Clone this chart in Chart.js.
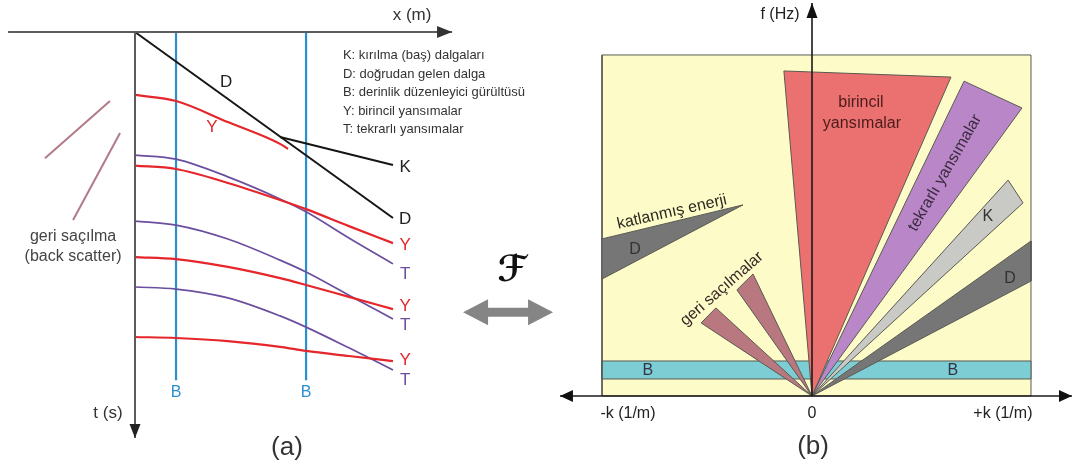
<!DOCTYPE html>
<html>
<head>
<meta charset="utf-8">
<script src="https://cdn.jsdelivr.net/npm/chart.js@4.4.1/dist/chart.umd.min.js"></script>
<style>
  html, body { margin: 0; padding: 0; background: #ffffff; }
  #wrap { position: relative; width: 1081px; height: 472px; overflow: hidden; }
  canvas { position: absolute; top: 0; }
  #chartA { left: 0; }
  #chartB { left: 560px; }
</style>
</head>
<body>
<div id="wrap">
  <canvas id="chartA" width="560" height="472"></canvas>
  <canvas id="chartB" width="521" height="472"></canvas>
</div>
<script>
// ---------- (a) shot gather: offset x (m) against time t (s), diagram units ----------
const offsets   = [0, 1.59, 3.6, 5.62, 6.63, 8.29, 10];
const primary1X = [0, 1.59, 3.6, 5.62, 5.93];
const primary1T = [1.85, 2.03, 2.65, 3.29, 3.44];
const primary2T = [3.93, 4.03, 4.44, 4.94, 5.21, 5.71, 6.21];
const primary3T = [6.62, 6.68, 6.91, 7.24, 7.44, 7.79, 8.15];
const primary4T = [8.97, 9.00, 9.09, 9.26, 9.38, 9.53, 9.68];
const multiple1T = [3.62, 3.74, 4.26, 4.91, 5.29, 6.06, 6.82];
const multiple2T = [5.56, 5.68, 6.09, 6.71, 7.06, 7.74, 8.44];
const multiple3T = [7.50, 7.56, 7.82, 8.35, 8.68, 9.29, 9.94];
const directX = [0, 10];
const directT = [0, 5.47];
const headWaveX = [5.62, 10];
const headWaveT = [3.09, 3.91];
const groundRollX = [1.59, 6.63];
const groundRollT = [0, 10.24];
const backScatter1X = [-3.49, -0.97];
const backScatter1T = [3.71, 2.03];
const backScatter2X = [-2.40, -0.58];
const backScatter2T = [5.53, 2.97];
const axisAX = [-4.92, 12.29];
const axisAT = [0, 11.94];

// ---------- (b) f-k spectrum: wavenumber k (1/m) against frequency f (Hz) ----------
const panelK = [-9.79, 10.21];
const panelF = [0, 10.03];
const groundRollF = [0.5, 1.03];
const primaryWedgeK = [0, -1.31, 6.48];
const primaryWedgeF = [0, 9.56, 9.38];
const multipleWedgeK = [0, 7.09, 9.79];
const multipleWedgeF = [0, 9.26, 8.47];
const headWedgeK = [0, 9.14, 9.84];
const headWedgeF = [0, 6.35, 5.68];
const directWedgeK = [0, 10.21, 10.21];
const directWedgeF = [0, 4.56, 3.38];
const aliasedK = [-9.79, -3.22, -9.79];
const aliasedF = [4.62, 5.62, 3.44];
const scatterWedge1K = [0, -5.17, -4.48];
const scatterWedge1F = [0, 2.15, 2.59];
const scatterWedge2K = [0, -3.50, -2.75];
const scatterWedge2F = [0, 3.12, 3.59];
const axisBK = [-11.75, 12.12];
const axisBF = [0, 11.56];

// ---------- helpers ----------
const zip = (xs, ys) => xs.map((v, i) => ({ x: v, y: ys[i] }));
const closed = (xs, ys) => { const p = zip(xs, ys); p.push({ ...p[0] }); return p; };

const FONT = '"Liberation Sans", Arial, sans-serif';

function labelPlugin(items) {
  return {
    id: 'textLabels',
    afterDatasetsDraw(chart) {
      const { ctx } = chart;
      const sx = chart.scales.x, sy = chart.scales.y;
      for (const l of items) {
        ctx.save();
        ctx.translate(sx.getPixelForValue(l.x), sy.getPixelForValue(l.y));
        if (l.rot) ctx.rotate(l.rot * Math.PI / 180);
        ctx.font = l.font;
        ctx.fillStyle = l.color;
        ctx.textAlign = l.align || 'center';
        ctx.textBaseline = 'middle';
        ctx.fillText(l.text, 0, 0);
        ctx.restore();
      }
    }
  };
}

function arrowPlugin(heads, extra) {
  return {
    id: 'arrowHeads',
    afterDatasetsDraw(chart) {
      const { ctx } = chart;
      const sx = chart.scales.x, sy = chart.scales.y;
      for (const h of heads) {
        const px = sx.getPixelForValue(h.x), py = sy.getPixelForValue(h.y);
        ctx.save();
        ctx.translate(px, py);
        ctx.rotate(h.angle * Math.PI / 180);
        ctx.beginPath();
        ctx.moveTo(0, 0);
        ctx.lineTo(-h.len, -h.half);
        ctx.lineTo(-h.len, h.half);
        ctx.closePath();
        ctx.fillStyle = h.color;
        ctx.fill();
        ctx.restore();
      }
      if (extra) extra(chart, sx, sy);
    }
  };
}

function baseOptions(xmin, xmax, ymin, ymax, reverseY) {
  return {
    responsive: false,
    animation: false,
    devicePixelRatio: 1,
    layout: { padding: 0 },
    events: [],
    scales: {
      x: { type: 'linear', display: false, min: xmin, max: xmax },
      y: { type: 'linear', display: false, min: ymin, max: ymax, reverse: reverseY }
    },
    plugins: { legend: { display: false }, tooltip: { enabled: false } },
    elements: { point: { radius: 0 } }
  };
}

function lineSet(points, color, width, order, curved) {
  return {
    data: points, showLine: true, borderColor: color, borderWidth: width,
    pointRadius: 0, fill: false, order: order,
    tension: curved ? 0.4 : 0, cubicInterpolationMode: curved ? 'monotone' : 'default',
    borderCapStyle: 'butt'
  };
}

function polySet(points, fillColor, order) {
  return {
    data: points, showLine: true, borderColor: '#5a5a52', borderWidth: 1,
    backgroundColor: fillColor, fill: 'shape', pointRadius: 0, order: order, tension: 0
  };
}

// ---------- chart (a) ----------
const RED = '#e5262b', PURPLE = '#6b4f9e', BLUE = '#2b8fcf', BLACK = '#151515', AXIS = '#5c5c5c';

const labelsA = [
  { text: 'x (m)', x: 10.74, y: -0.50, font: '17px ' + FONT, color: '#333' },
  { text: 't (s)', x: -1.05, y: 11.21, font: '17px ' + FONT, color: '#333' },
  { text: 'D', x: 3.53, y: 1.47, font: '17px ' + FONT, color: '#222' },
  { text: 'Y', x: 2.98, y: 2.79, font: '17px ' + FONT, color: RED },
  { text: 'K', x: 10.47, y: 3.97, font: '17px ' + FONT, color: '#222' },
  { text: 'D', x: 10.47, y: 5.50, font: '17px ' + FONT, color: '#222' },
  { text: 'Y', x: 10.47, y: 6.26, font: '17px ' + FONT, color: RED },
  { text: 'T', x: 10.47, y: 7.12, font: '17px ' + FONT, color: PURPLE },
  { text: 'Y', x: 10.47, y: 8.06, font: '17px ' + FONT, color: RED },
  { text: 'T', x: 10.47, y: 8.62, font: '17px ' + FONT, color: PURPLE },
  { text: 'Y', x: 10.47, y: 9.65, font: '17px ' + FONT, color: RED },
  { text: 'T', x: 10.47, y: 10.24, font: '17px ' + FONT, color: PURPLE },
  { text: 'B', x: 1.59, y: 10.62, font: '16px ' + FONT, color: BLUE },
  { text: 'B', x: 6.63, y: 10.62, font: '16px ' + FONT, color: BLUE },
  { text: 'K: kırılma (baş) dalgaları', x: 8.06, y: 0.68, font: '13px ' + FONT, color: '#333', align: 'left' },
  { text: 'D: doğrudan gelen dalga', x: 8.06, y: 1.24, font: '13px ' + FONT, color: '#333', align: 'left' },
  { text: 'B: derinlik düzenleyici gürültüsü', x: 8.06, y: 1.79, font: '13px ' + FONT, color: '#333', align: 'left' },
  { text: 'Y: birincil yansımalar', x: 8.06, y: 2.33, font: '13px ' + FONT, color: '#333', align: 'left' },
  { text: 'T: tekrarlı yansımalar', x: 8.06, y: 2.88, font: '13px ' + FONT, color: '#333', align: 'left' },
  { text: 'geri saçılma', x: -2.40, y: 6.03, font: '16px ' + FONT, color: '#444' },
  { text: '(back scatter)', x: -2.40, y: 6.62, font: '16px ' + FONT, color: '#444' },
  { text: '(a)', x: 5.89, y: 12.24, font: '26px ' + FONT, color: '#333' },
  { text: 'ℱ', x: 14.61, y: 7.06, font: 'bold italic 36px "DejaVu Serif", "DejaVu Sans", serif', color: '#111' }
];

const headsA = [
  { x: axisAX[1], y: 0, angle: 0, len: 15, half: 6, color: '#333' },
  { x: 0, y: axisAT[1], angle: 90, len: 14, half: 5.5, color: '#222' }
];

// double arrow between the two panels (transform pair)
function drawTransformArrow(chart, sx, sy) {
  const ctx = chart.ctx;
  const cx = sx.getPixelForValue(14.46), cy = sy.getPixelForValue(8.24);
  const halfLen = 45, headLen = 25, headHalf = 13, shaftHalf = 4.5;
  ctx.save();
  ctx.beginPath();
  ctx.moveTo(cx - halfLen, cy);
  ctx.lineTo(cx - halfLen + headLen, cy - headHalf);
  ctx.lineTo(cx - halfLen + headLen, cy - shaftHalf);
  ctx.lineTo(cx + halfLen - headLen, cy - shaftHalf);
  ctx.lineTo(cx + halfLen - headLen, cy - headHalf);
  ctx.lineTo(cx + halfLen, cy);
  ctx.lineTo(cx + halfLen - headLen, cy + headHalf);
  ctx.lineTo(cx + halfLen - headLen, cy + shaftHalf);
  ctx.lineTo(cx - halfLen + headLen, cy + shaftHalf);
  ctx.lineTo(cx - halfLen + headLen, cy + headHalf);
  ctx.closePath();
  ctx.fillStyle = '#858585';
  ctx.fill();
  ctx.restore();
}

const optsA = baseOptions(-5.2326, 16.4729, -0.94118, 12.94118, true);
new Chart(document.getElementById('chartA'), {
  type: 'scatter',
  data: {
    datasets: [
      lineSet(zip(axisAX, [0, 0]), AXIS, 2, 0, false),
      lineSet(zip([0, 0], axisAT), AXIS, 2, 0, false),
      lineSet(zip(directX, directT), BLACK, 2, 2, false),
      lineSet(zip(headWaveX, headWaveT), BLACK, 2, 2, false),
      lineSet(zip(primary1X, primary1T), RED, 2.2, 3, true),
      lineSet(zip(offsets, primary2T), RED, 2.2, 3, true),
      lineSet(zip(offsets, primary3T), RED, 2.2, 3, true),
      lineSet(zip(offsets, primary4T), RED, 2.2, 3, true),
      lineSet(zip(offsets, multiple1T), PURPLE, 1.7, 4, true),
      lineSet(zip(offsets, multiple2T), PURPLE, 1.7, 4, true),
      lineSet(zip(offsets, multiple3T), PURPLE, 1.7, 4, true),
      lineSet(zip([groundRollX[0], groundRollX[0]], groundRollT), BLUE, 2.2, 5, false),
      lineSet(zip([groundRollX[1], groundRollX[1]], groundRollT), BLUE, 2.2, 5, false),
      lineSet(zip(backScatter1X, backScatter1T), '#b07a86', 2, 6, false),
      lineSet(zip(backScatter2X, backScatter2T), '#b07a86', 2, 6, false)
    ]
  },
  options: optsA,
  plugins: [labelPlugin(labelsA), arrowPlugin(headsA, drawTransformArrow)]
});

// ---------- chart (b) ----------
const labelsB = [
  { text: 'f (Hz)', x: -1.49, y: 11.21, font: '16px ' + FONT, color: '#222' },
  { text: '-k (1/m)', x: -8.58, y: -0.53, font: '16px ' + FONT, color: '#222' },
  { text: '0', x: 0, y: -0.53, font: '16px ' + FONT, color: '#222' },
  { text: '+k (1/m)', x: 8.90, y: -0.53, font: '16px ' + FONT, color: '#222' },
  { text: '(b)', x: 0.05, y: -1.50, font: '26px ' + FONT, color: '#333' },
  { text: 'birincil', x: 2.28, y: 8.62, font: '16px ' + FONT, color: '#4a1c1c' },
  { text: 'yansımalar', x: 2.33, y: 8.00, font: '16px ' + FONT, color: '#4a1c1c' },
  { text: 'tekrarlı yansımalar', x: 6.20, y: 6.56, rot: -60, font: '16px ' + FONT, color: '#3a2a3e' },
  { text: 'katlanmış enerji', x: -6.53, y: 5.41, rot: -12.7, font: '16px ' + FONT, color: '#2a2a22' },
  { text: 'geri saçılmalar', x: -4.20, y: 3.15, rot: -41, font: '16px ' + FONT, color: '#3a2a2a' },
  { text: 'K', x: 8.20, y: 5.29, font: '16px ' + FONT, color: '#333' },
  { text: 'D', x: 9.23, y: 3.44, font: '16px ' + FONT, color: '#333' },
  { text: 'D', x: -8.25, y: 4.32, font: '16px ' + FONT, color: '#333' },
  { text: 'B', x: -7.65, y: 0.76, font: '16px ' + FONT, color: '#334' },
  { text: 'B', x: 6.57, y: 0.76, font: '16px ' + FONT, color: '#334' }
];

const headsB = [
  { x: axisBK[0], y: 0, angle: 180, len: 13, half: 6, color: '#111' },
  { x: axisBK[1], y: 0, angle: 0, len: 13, half: 6, color: '#111' },
  { x: 0, y: axisBF[1], angle: -90, len: 15, half: 5.5, color: '#111' }
];

const optsB = baseOptions(-11.748, 12.541, -2.2353, 11.647, false);
new Chart(document.getElementById('chartB'), {
  type: 'scatter',
  data: {
    datasets: [
      lineSet(zip(axisBK, [0, 0]), '#1a1a1a', 1.6, 0, false),
      lineSet(zip([0, 0], axisBF), '#1a1a1a', 1.6, 0, false),
      polySet(closed(primaryWedgeK, primaryWedgeF), '#ea7170', 2),
      polySet(closed(multipleWedgeK, multipleWedgeF), '#b986c8', 2),
      polySet(closed(headWedgeK, headWedgeF), '#c9c9c6', 2),
      polySet(closed(directWedgeK, directWedgeF), '#767676', 2),
      polySet(closed(aliasedK, aliasedF), '#767676', 2),
      polySet(closed(scatterWedge1K, scatterWedge1F), '#b9777f', 2),
      polySet(closed(scatterWedge2K, scatterWedge2F), '#b9777f', 2),
      polySet(closed([panelK[0], panelK[1], panelK[1], panelK[0]], [groundRollF[0], groundRollF[0], groundRollF[1], groundRollF[1]]), '#7dcdd4', 5),
      polySet(closed([panelK[0], panelK[1], panelK[1], panelK[0]], [panelF[0], panelF[0], panelF[1], panelF[1]]), '#fdfbc7', 6)
    ]
  },
  options: optsB,
  plugins: [labelPlugin(labelsB), arrowPlugin(headsB, null)]
});
</script>
</body>
</html>
